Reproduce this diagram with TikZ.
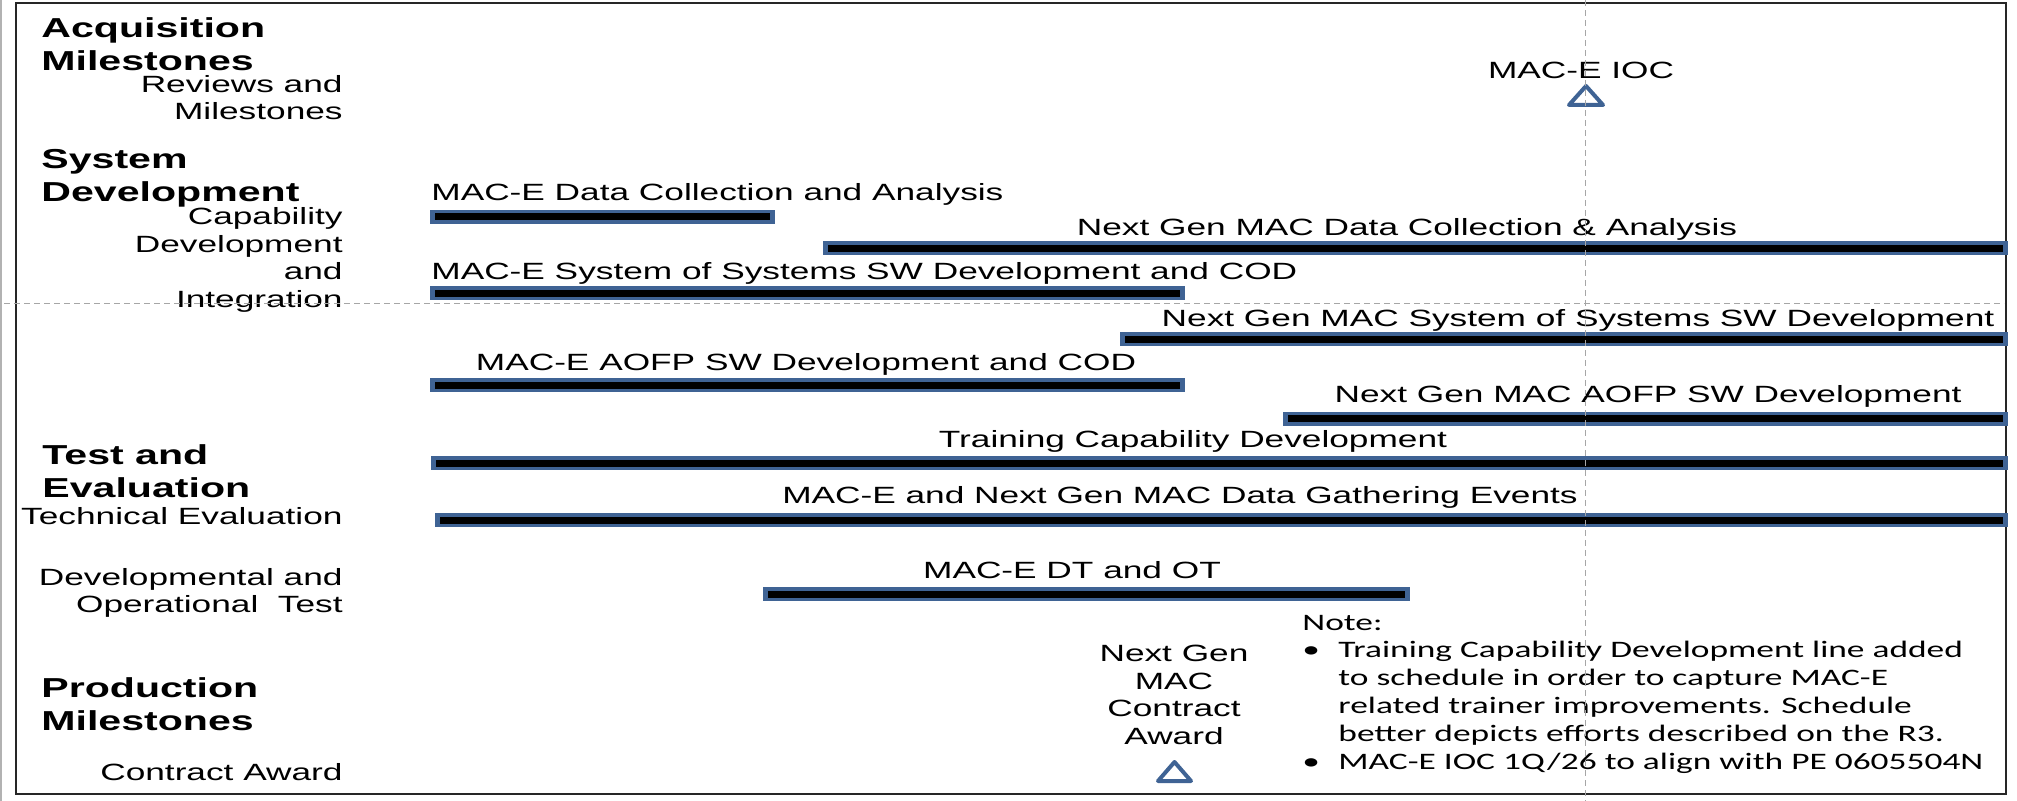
\documentclass[tikz,border=0pt]{standalone}
\usepackage{fontspec}
\setmainfont{Liberation Sans}[FakeStretch=1.5]
\newfontfamily\notefont{Carlito}[FakeStretch=1.5]
\usetikzlibrary{calc}
\definecolor{barblue}{RGB}{63,99,148}
\def\ganttbar(#1:#2:#3){\fill[barblue] (#1,#3-7) rectangle (#2,#3+7); \fill[black] (#1+5,#3-3.5) rectangle (#2-5,#3+3.5);}
\tikzset{
	lbl/.style={font=\fontsize{11.75}{13.85}\selectfont, inner sep=0pt},
	side/.style={lbl, align=right, anchor=east},
	head/.style={font=\fontsize{13.7}{16.3}\selectfont\bfseries, align=left, anchor=west, inner sep=0pt},
	milestone/.style={draw=barblue, line width=2pt, line join=round},
	gridline/.style={gray!70, line width=0.5pt, dash pattern=on 3pt off 2pt}
}

\begin{document}
\begin{tikzpicture}[x=0.5pt,y=-0.5pt]
		%%%%% START %%%%%
		\useasboundingbox (0,0) rectangle (2017,801);
		
		\draw[gray!60, line width=1pt] (1,0) -- (1,801);
		\draw[line width=1pt, color=black!85] (16,3) rectangle (2006,794);
		
		%%%%% ROW TITLES %%%%%
		\node[head] (acq) at (41,44) {Acquisition\\Milestones};
		\node[side] (rev) at (343,97.5) {Reviews and\\Milestones};
		\node[head] (sysdev) at (41,178) {System\\Development};
		\node[side] (capdev) at (343,260) {Capability\\Development\\and\\Integration};
		\node[head] (teste) at (42,471) {Test and\\Evaluation};
		\node[side] (techev) at (343,516.5) {Technical Evaluation};
		\node[side] (dtot) at (343,593) {Developmental and\\Operational\ \ Test};
		\node[head] (prod) at (41,704) {Production\\Milestones};
		\node[side] (award) at (343,772.5) {Contract Award};
		
		%%%%% BARS %%%%%
		\ganttbar(430:775:217)
		\node[lbl, anchor=west] (macedata) at (431,194) {MAC-E Data Collection and Analysis};
		\ganttbar(823:2008:248.5)
		\node[lbl] (ngdata) at (1407,229) {Next Gen MAC Data Collection \& Analysis};
		\ganttbar(430:1185:293.5)
		\node[lbl, anchor=west] (macesos) at (431,273) {MAC-E System of Systems SW Development and COD};
		\ganttbar(1120:2008:339.5)
		\node[lbl] (ngsos) at (1578,320) {Next Gen MAC System of Systems SW Development};
		\ganttbar(430:1185:385.5)
		\node[lbl] (maceaofp) at (806,364) {MAC-E AOFP SW Development and COD};
		\ganttbar(1283:2008:419)
		\node[lbl] (ngaofp) at (1648,396) {Next Gen MAC AOFP SW Development};
		\ganttbar(431:2008:463.5)
		\node[lbl] (training) at (1193,441) {Training Capability Development};
		\ganttbar(435:2008:520.5)
		\node[lbl] (events) at (1180,497) {MAC-E and Next Gen MAC Data Gathering Events};
		\ganttbar(763:1410:594)
		\node[lbl] (dtandot) at (1072,570) {MAC-E DT and OT};
		
		%%%%% MILESTONES %%%%%
		\node[lbl] (ioc) at (1581,70) {MAC-E IOC};
		\draw[milestone] (1569,105) -- (1603,105) -- (1586,86) -- cycle;
		\node[lbl, align=center] (ngaward) at (1174,695) {Next Gen\\MAC\\Contract\\Award};
		\draw[milestone] (1158,781) -- (1191,781) -- (1174.5,762) -- cycle;
		
		%%%%% NOTE %%%%%
		\node[font=\notefont\fontsize{11.8}{13.9}\selectfont, inner sep=0pt, anchor=west] (note) at (1302,694) {%
			\begin{tabular}{@{}l@{}l@{}}
				\multicolumn{2}{@{}l@{}}{Note:}\\
				\makebox[18pt][l]{\textbullet} & Training Capability Development line added\\
				& to schedule in order to capture MAC-E\\
				& related trainer improvements. Schedule\\
				& better depicts efforts described on the R3.\\
				\makebox[18pt][l]{\textbullet} & MAC-E IOC 1Q/26 to align with PE 0605504N
		\end{tabular}};
		
		%%%%% GRID %%%%%
		\draw[gridline] (4,304) -- (2004,304);
		\draw[gridline] (1585,0) -- (1585,801);
		
		%%%%% END %%%%%
\end{tikzpicture}
\end{document}
